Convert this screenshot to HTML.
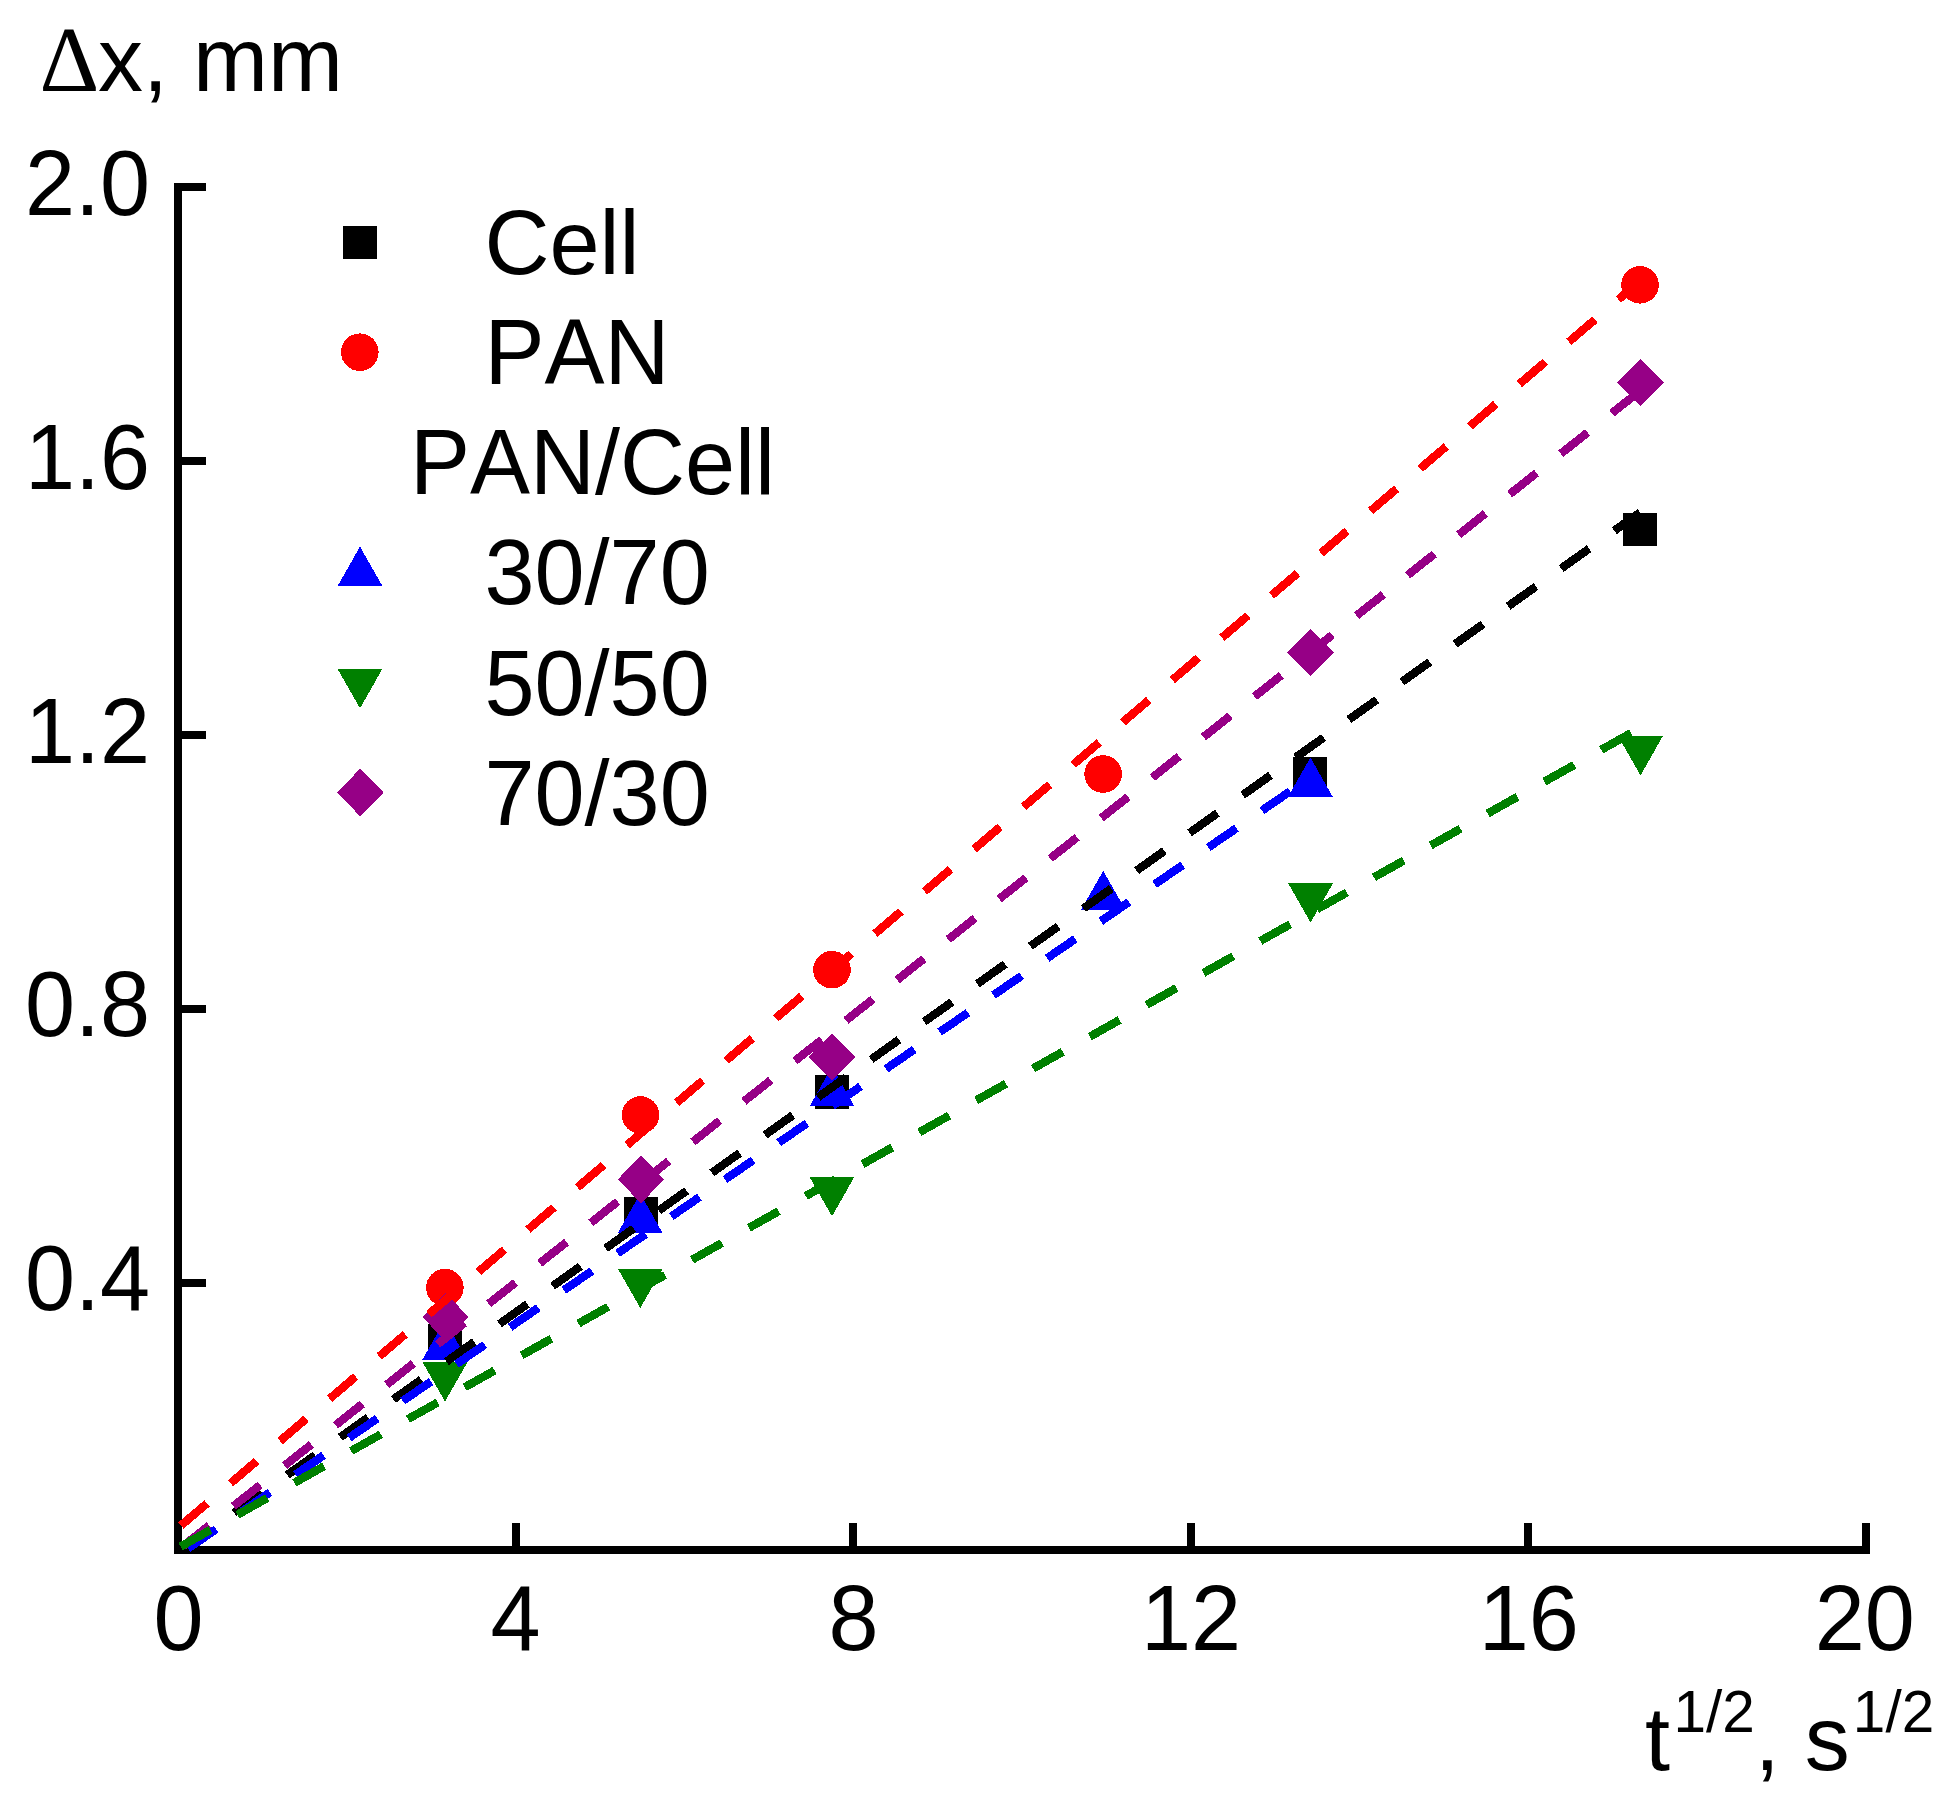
<!DOCTYPE html>
<html lang="en"><head><meta charset="utf-8"><title>Δx vs t^1/2</title>
<style>
html,body{margin:0;padding:0;background:#fff;}
body{width:1957px;height:1804px;overflow:hidden;}
svg{display:block;}
text{font-family:"Liberation Sans",Arial,sans-serif;font-size:90px;fill:#000;font-kerning:none;}
.sym{font-family:"Liberation Serif","Times New Roman",serif;font-size:93px;}
.sup{font-size:58.5px;}
.ln{fill:none;stroke-width:8.3;stroke-dasharray:34.2 30.95;stroke-linecap:butt;}
</style></head><body>
<svg width="1957" height="1804" viewBox="0 0 1957 1804">
<rect x="0" y="0" width="1957" height="1804" fill="#fff"/>
<g fill="#000" shape-rendering="crispEdges">
<rect x="174" y="183" width="8" height="1371"/>
<rect x="174" y="1546" width="1696" height="8"/>
<rect x="174" y="183" width="32" height="8"/>
<rect x="174" y="457" width="32" height="8"/>
<rect x="174" y="731" width="32" height="8"/>
<rect x="174" y="1004.5" width="32" height="8"/>
<rect x="174" y="1278.5" width="32" height="8"/>
<rect x="512" y="1523" width="8" height="31"/>
<rect x="849" y="1523" width="8" height="31"/>
<rect x="1187" y="1523" width="8" height="31"/>
<rect x="1524" y="1523" width="8" height="31"/>
<rect x="1862" y="1523" width="8" height="31"/>
</g>
<g shape-rendering="crispEdges">
<rect x="428" y="1323.75" width="34" height="33.5" fill="#000000"/>
<rect x="623.5" y="1196.85" width="34" height="33.5" fill="#000000"/>
<rect x="815" y="1075.25" width="34" height="33.5" fill="#000000"/>
<rect x="1293.4" y="756.65" width="34" height="33.5" fill="#000000"/>
<rect x="1623" y="512.75" width="34" height="33.5" fill="#000000"/>
<circle cx="444.9" cy="1287.6" r="18.8" fill="#ff0000"/>
<circle cx="640.5" cy="1115" r="18.8" fill="#ff0000"/>
<circle cx="832" cy="969.7" r="18.8" fill="#ff0000"/>
<circle cx="1103.1" cy="774" r="18.8" fill="#ff0000"/>
<circle cx="1640" cy="284.8" r="18.8" fill="#ff0000"/>
<polygon points="444.8,1320.3 467.15,1359.6 422.45,1359.6" fill="#0000ff"/>
<polygon points="640.2,1193.6 662.55,1232.9 617.85,1232.9" fill="#0000ff"/>
<polygon points="832,1066.8 854.35,1106.1 809.65,1106.1" fill="#0000ff"/>
<polygon points="1103.2,870.8 1125.55,910.1 1080.85,910.1" fill="#0000ff"/>
<polygon points="1310.4,757.5 1332.75,796.8 1288.05,796.8" fill="#0000ff"/>
<polygon points="445,1401.6 467.35,1362.3 422.65,1362.3" fill="#008000"/>
<polygon points="640.3,1308.1 662.65,1268.8 617.95,1268.8" fill="#008000"/>
<polygon points="832,1216.3 854.35,1177 809.65,1177" fill="#008000"/>
<polygon points="1310.6,922.6 1332.95,883.3 1288.25,883.3" fill="#008000"/>
<polygon points="1640.5,775.4 1662.85,736.1 1618.15,736.1" fill="#008000"/>
<polygon points="445.5,1293.2 468.8,1317 445.5,1340.8 422.2,1317" fill="#960086"/>
<polygon points="641,1155.6 664.3,1179.4 641,1203.2 617.7,1179.4" fill="#960086"/>
<polygon points="832.2,1033.2 855.5,1057 832.2,1080.8 808.9,1057" fill="#960086"/>
<polygon points="1310.5,628.6 1333.8,652.4 1310.5,676.2 1287.2,652.4" fill="#960086"/>
<polygon points="1640.6,358.8 1663.9,382.6 1640.6,406.4 1617.3,382.6" fill="#960086"/>
</g>
<g class="ln" shape-rendering="crispEdges">
<line x1="181" y1="1550.52" x2="1640" y2="512.44" stroke="#000000"/>
<line x1="180.95" y1="1525.56" x2="1640" y2="281.14" stroke="#ff0000"/>
<line x1="182.4" y1="1546.65" x2="1640" y2="390.92" stroke="#960086"/>
<line x1="188" y1="1548.53" x2="1310.4" y2="777.33" stroke="#0000ff"/>
<line x1="180.65" y1="1546.61" x2="1640" y2="728.06" stroke="#008000"/>
</g>
<g shape-rendering="crispEdges">
<rect x="343" y="225.75" width="34" height="33.5" fill="#000000"/>
<circle cx="359.8" cy="352.2" r="18.8" fill="#ff0000"/>
<polygon points="360,546.6 382.35,585.9 337.65,585.9" fill="#0000ff"/>
<polygon points="360,708.3 382.35,669 337.65,669" fill="#008000"/>
<polygon points="360.2,768.7 383.5,792.5 360.2,816.3 336.9,792.5" fill="#960086"/>
</g>
<g>
<text x="39.5" y="90.5"><tspan class="sym">Δ</tspan><tspan x="98">x, mm</tspan></text>
<text transform="translate(150,214.9) scale(1,1.028)" text-anchor="end">2.0</text>
<text transform="translate(150,488.9) scale(1,1.028)" text-anchor="end">1.6</text>
<text transform="translate(150,762.9) scale(1,1.028)" text-anchor="end">1.2</text>
<text transform="translate(150,1036.4) scale(1,1.028)" text-anchor="end">0.8</text>
<text transform="translate(150,1310.4) scale(1,1.028)" text-anchor="end">0.4</text>
<text transform="translate(178.5,1650.2) scale(1,1.028)" text-anchor="middle">0</text>
<text transform="translate(515.6,1650.2) scale(1,1.028)" text-anchor="middle">4</text>
<text transform="translate(853.5,1650.2) scale(1,1.028)" text-anchor="middle">8</text>
<text transform="translate(1191.1,1650.2) scale(1,1.028)" text-anchor="middle">12</text>
<text transform="translate(1528.7,1650.2) scale(1,1.028)" text-anchor="middle">16</text>
<text transform="translate(1864.8,1650.2) scale(1,1.028)" text-anchor="middle">20</text>
<text x="1645" y="1769.5">t<tspan class="sup" dx="3.5" dy="-38">1/2</tspan><tspan dy="38">, s</tspan><tspan class="sup" dx="3" dy="-38">1/2</tspan></text>
<text x="484.5" y="273.5">Cell</text>
<text transform="translate(484.5,383.7) scale(1,1.04)">PAN</text>
<text transform="translate(410,494) scale(1,1.02)">PAN/Cell</text>
<text transform="translate(484.5,604.4) scale(1,1.022)">30/70</text>
<text transform="translate(484.5,714.6) scale(1,1.022)">50/50</text>
<text transform="translate(484.5,824.8) scale(1,1.022)">70/30</text>
</g>
</svg>
</body></html>
